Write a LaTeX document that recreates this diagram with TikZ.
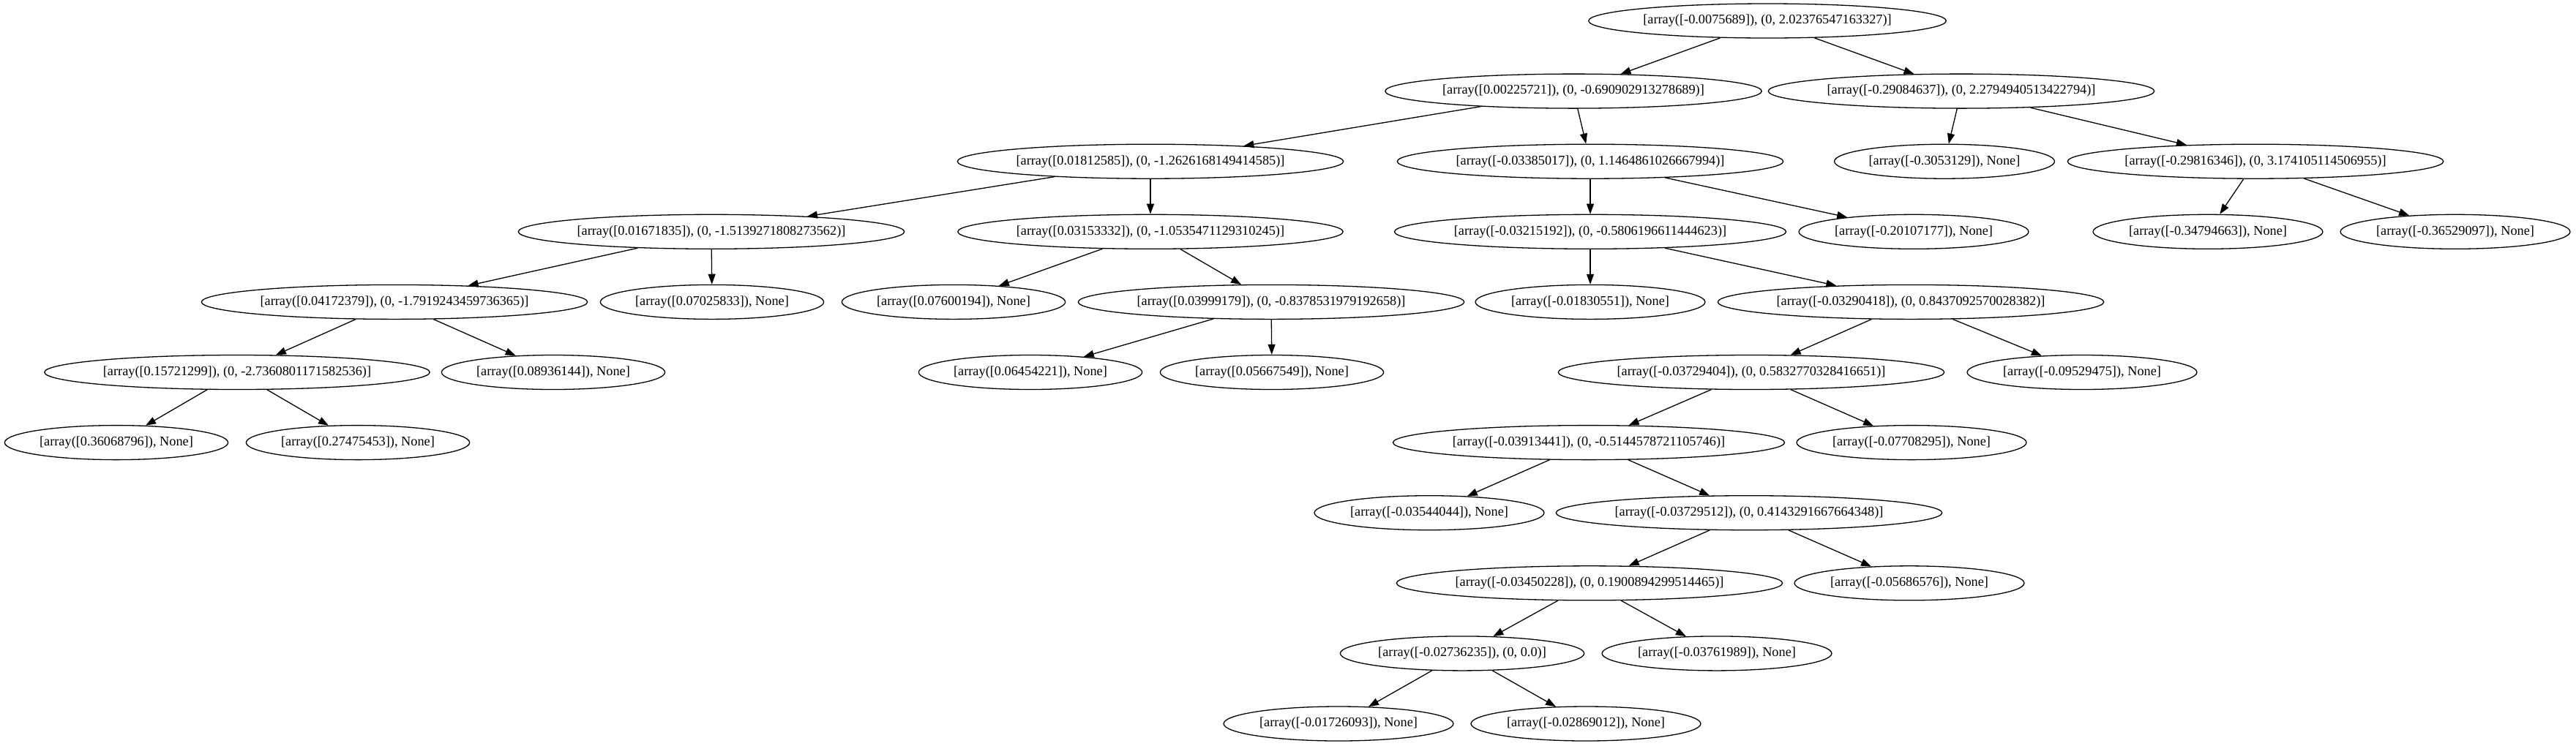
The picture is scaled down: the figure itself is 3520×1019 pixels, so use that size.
\documentclass[tikz,border=0pt]{standalone}
\usepackage{fontspec}
\setmainfont{Liberation Serif}
\usetikzlibrary{shapes.geometric,arrows.meta}

\begin{document}
\begin{tikzpicture}[x=0.5pt,y=-0.5pt,font=\fontsize{9.15}{11}\selectfont]
% Styles
\tikzstyle{fleche}=[->,>={Triangle[length=7pt,width=5pt]},line width=0.65pt]
\tikzstyle{noeud}=[draw,ellipse,line width=0.65pt,inner xsep=1.5pt,inner ysep=1pt,minimum height=23.5pt]
\tikzstyle{feuille}=[noeud]
% Dimensions
\def\DistanceInterNiveaux{96.1}
\def\Marge{28.5}
% Dimensions calculées
\def\NiveauA{\Marge+(0)*\DistanceInterNiveaux}
\def\NiveauB{\Marge+(1)*\DistanceInterNiveaux}
\def\NiveauC{\Marge+(2)*\DistanceInterNiveaux}
\def\NiveauD{\Marge+(3)*\DistanceInterNiveaux}
\def\NiveauE{\Marge+(4)*\DistanceInterNiveaux}
\def\NiveauF{\Marge+(5)*\DistanceInterNiveaux}
\def\NiveauG{\Marge+(6)*\DistanceInterNiveaux}
\def\NiveauH{\Marge+(7)*\DistanceInterNiveaux}
\def\NiveauI{\Marge+(8)*\DistanceInterNiveaux}
\def\NiveauJ{\Marge+(9)*\DistanceInterNiveaux}
\def\NiveauK{\Marge+(10)*\DistanceInterNiveaux}
\useasboundingbox (0,0) rectangle (3520,1019);
% Noeuds
\node[noeud] (R) at ({2415},{\NiveauA}) {[array([-0.0075689]), (0, 2.02376547163327)]};
\node[noeud] (Ra) at ({2150},{\NiveauB}) {[array([0.00225721]), (0, -0.690902913278689)]};
\node[noeud] (Rb) at ({2680},{\NiveauB}) {[array([-0.29084637]), (0, 2.2794940513422794)]};
\node[noeud] (Raa) at ({1572},{\NiveauC}) {[array([0.01812585]), (0, -1.2626168149414585)]};
\node[noeud] (Rab) at ({2173},{\NiveauC}) {[array([-0.03385017]), (0, 1.1464861026667994)]};
\node[feuille] (Rba) at ({2657},{\NiveauC}) {[array([-0.3053129]), None]};
\node[noeud] (Rbb) at ({3082},{\NiveauC}) {[array([-0.29816346]), (0, 3.174105114506955)]};
\node[noeud] (Raaa) at ({972},{\NiveauD}) {[array([0.01671835]), (0, -1.5139271808273562)]};
\node[noeud] (Raab) at ({1572},{\NiveauD}) {[array([0.03153332]), (0, -1.0535471129310245)]};
\node[noeud] (Raba) at ({2173},{\NiveauD}) {[array([-0.03215192]), (0, -0.5806196611444623)]};
\node[feuille] (Rabb) at ({2615},{\NiveauD}) {[array([-0.20107177]), None]};
\node[feuille] (Rbba) at ({3017},{\NiveauD}) {[array([-0.34794663]), None]};
\node[feuille] (Rbbb) at ({3355},{\NiveauD}) {[array([-0.36529097]), None]};
\node[noeud] (Raaaa) at ({539},{\NiveauE}) {[array([0.04172379]), (0, -1.7919243459736365)]};
\node[feuille] (Raaab) at ({973},{\NiveauE}) {[array([0.07025833]), None]};
\node[feuille] (Raaba) at ({1303},{\NiveauE}) {[array([0.07600194]), None]};
\node[noeud] (Raabb) at ({1737},{\NiveauE}) {[array([0.03999179]), (0, -0.8378531979192658)]};
\node[feuille] (Rabaa) at ({2173},{\NiveauE}) {[array([-0.01830551]), None]};
\node[noeud] (Rabab) at ({2611},{\NiveauE}) {[array([-0.03290418]), (0, 0.8437092570028382)]};
\node[noeud] (Raaaaa) at ({324},{\NiveauF}) {[array([0.15721299]), (0, -2.7360801171582536)]};
\node[feuille] (Raaaab) at ({756},{\NiveauF}) {[array([0.08936144]), None]};
\node[feuille] (Raabba) at ({1408},{\NiveauF}) {[array([0.06454221]), None]};
\node[feuille] (Raabbb) at ({1738},{\NiveauF}) {[array([0.05667549]), None]};
\node[noeud] (Rababa) at ({2393},{\NiveauF}) {[array([-0.03729404]), (0, 0.5832770328416651)]};
\node[feuille] (Rababb) at ({2845},{\NiveauF}) {[array([-0.09529475]), None]};
\node[feuille] (Raaaaaa) at ({159},{\NiveauG}) {[array([0.36068796]), None]};
\node[feuille] (Raaaaab) at ({489},{\NiveauG}) {[array([0.27475453]), None]};
\node[noeud] (Rababaa) at ({2171},{\NiveauG}) {[array([-0.03913441]), (0, -0.5144578721105746)]};
\node[feuille] (Rababab) at ({2612},{\NiveauG}) {[array([-0.07708295]), None]};
\node[feuille] (Rababaaa) at ({1953},{\NiveauH}) {[array([-0.03544044]), None]};
\node[noeud] (Rababaab) at ({2390},{\NiveauH}) {[array([-0.03729512]), (0, 0.4143291667664348)]};
\node[noeud] (Rababaaba) at ({2172},{\NiveauI}) {[array([-0.03450228]), (0, 0.1900894299514465)]};
\node[feuille] (Rababaabb) at ({2609},{\NiveauI}) {[array([-0.05686576]), None]};
\node[noeud] (Rababaabaa) at ({1998},{\NiveauJ}) {[array([-0.02736235]), (0, 0.0)]};
\node[feuille] (Rababaabab) at ({2346},{\NiveauJ}) {[array([-0.03761989]), None]};
\node[feuille] (Rababaabaaa) at ({1829},{\NiveauK}) {[array([-0.01726093]), None]};
\node[feuille] (Rababaabaab) at ({2167},{\NiveauK}) {[array([-0.02869012]), None]};
% Arcs
\draw[fleche] (R)--(Ra);
\draw[fleche] (R)--(Rb);
\draw[fleche] (Ra)--(Raa);
\draw[fleche] (Ra)--(Rab);
\draw[fleche] (Rb)--(Rba);
\draw[fleche] (Rb)--(Rbb);
\draw[fleche] (Raa)--(Raaa);
\draw[fleche] (Raa)--(Raab);
\draw[fleche] (Rab)--(Raba);
\draw[fleche] (Rab)--(Rabb);
\draw[fleche] (Rbb)--(Rbba);
\draw[fleche] (Rbb)--(Rbbb);
\draw[fleche] (Raaa)--(Raaaa);
\draw[fleche] (Raaa)--(Raaab);
\draw[fleche] (Raab)--(Raaba);
\draw[fleche] (Raab)--(Raabb);
\draw[fleche] (Raba)--(Rabaa);
\draw[fleche] (Raba)--(Rabab);
\draw[fleche] (Raaaa)--(Raaaaa);
\draw[fleche] (Raaaa)--(Raaaab);
\draw[fleche] (Raabb)--(Raabba);
\draw[fleche] (Raabb)--(Raabbb);
\draw[fleche] (Rabab)--(Rababa);
\draw[fleche] (Rabab)--(Rababb);
\draw[fleche] (Raaaaa)--(Raaaaaa);
\draw[fleche] (Raaaaa)--(Raaaaab);
\draw[fleche] (Rababa)--(Rababaa);
\draw[fleche] (Rababa)--(Rababab);
\draw[fleche] (Rababaa)--(Rababaaa);
\draw[fleche] (Rababaa)--(Rababaab);
\draw[fleche] (Rababaab)--(Rababaaba);
\draw[fleche] (Rababaab)--(Rababaabb);
\draw[fleche] (Rababaaba)--(Rababaabaa);
\draw[fleche] (Rababaaba)--(Rababaabab);
\draw[fleche] (Rababaabaa)--(Rababaabaaa);
\draw[fleche] (Rababaabaa)--(Rababaabaab);
\end{tikzpicture}
\end{document}
